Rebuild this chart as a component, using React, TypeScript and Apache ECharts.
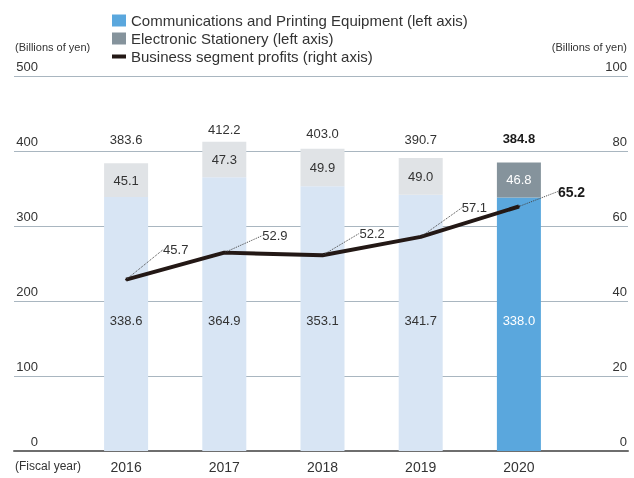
import React, { useEffect, useRef } from "react";
import * as echarts from "echarts";

const years = ["2016", "2017", "2018", "2019", "2020"];
const commValues = [338.6, 364.9, 353.1, 341.7, 338.0];
const statValues = [45.1, 47.3, 49.9, 49.0, 46.8];
const totals = [383.6, 412.2, 403.0, 390.7, 384.8];
const profits = [45.7, 52.9, 52.2, 57.1, 65.2];
const leftAxis = { min: 0, max: 500, interval: 100 };
const rightAxis = { min: 0, max: 100, interval: 20 };

const names = [
  "Communications and Printing Equipment (left axis)",
  "Electronic Stationery (left axis)",
  "Business segment profits (right axis)",
];

// styling constants
const HI = years.length - 1;
const FONT = "'Liberation Sans', Arial, Helvetica, sans-serif";
const TXT = "#333333";
const BLUE = "#5aa7dd";
const BLUE_L = "#d8e5f4";
const GRAY = "#85939c";
const GRAY_L = "#e0e3e6";
const LINE = "#231815";
const profitLabelOffsets = [
  [36, -30],
  [37, -17],
  [36, -22],
  [40, -29],
  [38, -15],
];
const totalLabelDy = [-3, 8, 5, 2, -3];

export default function App() {
  const ref = useRef<HTMLDivElement>(null);
  useEffect(() => {
    if (!ref.current) return;
    const chart = echarts.init(ref.current, null, { renderer: "svg" });
    const top = 76;
    const bottom = 27;
    chart.setOption({
      animation: false,
      textStyle: { fontFamily: FONT },
      legend: {
        orient: "vertical",
        left: 110,
        top: 13,
        padding: 0,
        itemGap: 3,
        itemWidth: 14,
        itemHeight: 12,
        selectedMode: false,
        textStyle: { fontSize: 15, color: TXT, fontFamily: FONT },
        data: [
          { name: names[0], icon: "rect" },
          { name: names[1], icon: "rect" },
          {
            name: names[2],
            itemStyle: { opacity: 0 },
            lineStyle: { width: 4, color: LINE },
          },
        ],
      },
      grid: [
        { left: 77, right: 66, top, bottom },
        { left: 14, right: 6, top, bottom },
      ],
      xAxis: [
        {
          type: "category",
          gridIndex: 0,
          data: years,
          axisLine: { show: false },
          axisTick: { show: false },
          axisLabel: { fontSize: 14, color: TXT, margin: 9, fontFamily: FONT },
        },
        {
          type: "value",
          gridIndex: 1,
          min: 0,
          max: 1,
          axisLine: { show: true, onZero: false, lineStyle: { color: "#6e6e6e", width: 2 } },
          axisTick: { show: false },
          axisLabel: { show: false },
          splitLine: { show: false },
        },
      ],
      yAxis: [
        { type: "value", gridIndex: 0, ...leftAxis, show: false },
        { type: "value", gridIndex: 0, ...rightAxis, show: false, position: "right" },
        {
          type: "value",
          gridIndex: 1,
          position: "left",
          ...leftAxis,
          axisLine: { show: false },
          axisTick: { show: false },
          splitLine: { show: true, lineStyle: { color: "#a9b6c0", width: 1 } },
          axisLabel: {
            inside: true,
            margin: 24,
            align: "right",
            verticalAlign: "bottom",
            padding: [0, 0, 3, 0],
            fontSize: 13,
            color: TXT,
            fontFamily: FONT,
          },
        },
        {
          type: "value",
          gridIndex: 1,
          position: "right",
          ...rightAxis,
          axisLine: { show: false },
          axisTick: { show: false },
          splitLine: { show: false },
          axisLabel: {
            inside: true,
            margin: 1,
            align: "right",
            verticalAlign: "bottom",
            padding: [0, 0, 3, 0],
            fontSize: 13,
            color: TXT,
            fontFamily: FONT,
          },
        },
      ],
      graphic: [
        {
          type: "text",
          left: 15,
          top: 41,
          style: { text: "(Billions of yen)", fontSize: 11, fill: TXT, fontFamily: FONT },
        },
        {
          type: "text",
          right: 7,
          top: 41,
          style: { text: "(Billions of yen)", fontSize: 11, fill: TXT, fontFamily: FONT },
        },
        {
          type: "text",
          left: 15,
          top: 460,
          style: { text: "(Fiscal year)", fontSize: 12, fill: TXT, fontFamily: FONT },
        },
      ],
      series: [
        {
          name: names[0],
          type: "bar",
          stack: "seg",
          xAxisIndex: 0,
          yAxisIndex: 0,
          barWidth: 44,
          itemStyle: { color: BLUE },
          label: {
            show: true,
            position: "insideBottom",
            distance: 124,
            fontSize: 13,
            color: TXT,
            fontFamily: FONT,
            formatter: (p: any) => p.value.toFixed(1),
          },
          data: commValues.map((v, i) =>
            i === HI
              ? { value: v, itemStyle: { color: BLUE }, label: { color: "#ffffff" } }
              : { value: v, itemStyle: { color: BLUE_L } }
          ),
        },
        {
          name: names[1],
          type: "bar",
          stack: "seg",
          xAxisIndex: 0,
          yAxisIndex: 0,
          barWidth: 44,
          itemStyle: { color: GRAY },
          label: {
            show: true,
            position: "inside",
            fontSize: 13,
            color: TXT,
            fontFamily: FONT,
            formatter: (p: any) => p.value.toFixed(1),
          },
          data: statValues.map((v, i) =>
            i === HI
              ? { value: v, itemStyle: { color: GRAY }, label: { color: "#ffffff" } }
              : { value: v, itemStyle: { color: GRAY_L } }
          ),
        },
        {
          name: "Total",
          type: "scatter",
          xAxisIndex: 0,
          yAxisIndex: 0,
          symbolSize: 0.1,
          itemStyle: { color: "#ffffff", opacity: 1 },
          silent: true,
          label: {
            show: true,
            position: "top",
            distance: 14,
            fontSize: 13,
            color: TXT,
            opacity: 1,
            fontFamily: FONT,
            formatter: (p: any) => Number(p.value).toFixed(1),
          },
          labelLayout: (params: any) => ({ dy: totalLabelDy[params.dataIndex] || 0 }),
          data: totals.map((v, i) =>
            i === HI
              ? { value: v, label: { fontWeight: "bold", color: "#1a1a1a" } }
              : v
          ),
          z: 5,
        },
        {
          name: names[2],
          type: "line",
          xAxisIndex: 0,
          yAxisIndex: 1,
          symbol: "circle",
          symbolSize: 2,
          showSymbol: true,
          itemStyle: { color: LINE },
          lineStyle: { color: LINE, width: 4 },
          z: 10,
          label: {
            show: true,
            position: "right",
            distance: 0,
            fontSize: 13,
            color: TXT,
            fontFamily: FONT,
            formatter: (p: any) => p.value.toFixed(1),
          },
          labelLine: {
            show: true,
            length2: 0,
            lineStyle: { type: "dotted", color: "#444", width: 1 },
          },
          labelLayout: (params: any) => {
            const o = profitLabelOffsets[params.dataIndex] || [0, 0];
            return { dx: o[0], dy: o[1] };
          },
          data: profits.map((v, i) =>
            i === HI
              ? { value: v, label: { fontWeight: "bold", color: "#1a1a1a", fontSize: 14 } }
              : v
          ),
        },
      ],
    });
    return () => chart.dispose();
  }, []);
  return (
    <div
      ref={ref}
      style={{ position: "fixed", left: 0, top: 0, width: 634, height: 478 }}
    />
  );
}
